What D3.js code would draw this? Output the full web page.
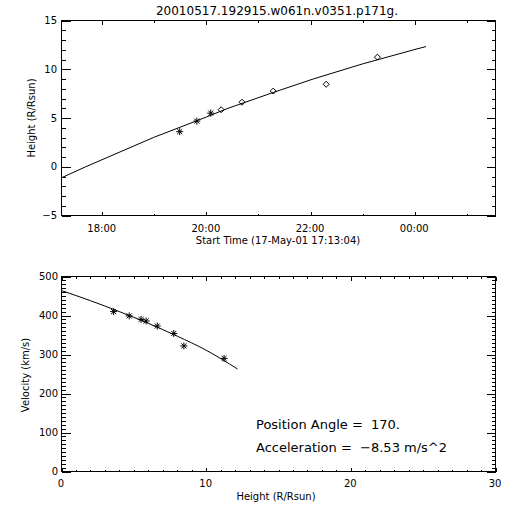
<!DOCTYPE html>
<html>
<head>
<meta charset="utf-8">
<script src="https://cdn.jsdelivr.net/npm/d3@7"></script>
<style>
  html, body { margin: 0; padding: 0; background: #fff; }
  svg { display: block; }
  text { font-family: "DejaVu Sans", sans-serif; fill: #000; white-space: pre; }
</style>
</head>
<body>
<svg id="chart" width="512" height="512"></svg>
<script>
// ---------------- data ----------------
const title = "20010517.192915.w061n.v0351.p171g.";
const startTime = "2001-05-17T17:13:04";
const obsTimes = ["2001-05-17T19:29:15", "2001-05-17T19:49:00", "2001-05-17T20:05:00",
                  "2001-05-17T20:17:00", "2001-05-17T20:41:00", "2001-05-17T21:17:00",
                  "2001-05-17T22:18:00", "2001-05-17T23:17:00"];
const obsHeights = [3.6, 4.68, 5.5, 5.85, 6.62, 7.76, 8.46, 11.24];
const obsSymbols = ["asterisk", "asterisk", "asterisk", "diamond", "diamond", "diamond", "diamond", "diamond"];
const obsVelocities = [410, 399, 390, 386, 373, 354, 322, 290];

const fitTimes = ["2001-05-17T17:13:04", "2001-05-17T17:41:00", "2001-05-17T18:59:00",
                  "2001-05-17T20:00:00", "2001-05-17T20:25:00", "2001-05-17T21:18:00",
                  "2001-05-17T22:03:00", "2001-05-17T23:00:00", "2001-05-17T23:59:00",
                  "2001-05-18T00:13:00"];
const fitHeights = [-1.13, 0, 3, 5.1, 6, 7.65, 9, 10.55, 12, 12.33];

const fitVelH = [0, 2, 4, 6, 8, 10, 12.16];
const fitVelV = [464, 438, 410, 380, 347, 311, 263];

const heightTicks = [-5, 0, 5, 10, 15];
const velTicks = [0, 100, 200, 300, 400, 500];
const hTicks = [0, 10, 20, 30];
const rangeSeconds = 30000;

const annotations = ["Position Angle =  170.", "Acceleration =  \u22128.53 m/s^2"];

// ---------------- setup ----------------
const svg = d3.select("#chart");
svg.append("rect").attr("width", 512).attr("height", 512).attr("fill", "#fff");
const parse = d3.timeParse("%Y-%m-%dT%H:%M:%S");
const t0 = parse(startTime);
const t1 = new Date(t0.getTime() + rangeSeconds * 1000);

const L = 61, R = 495;
const top1 = 20, bot1 = 215;
const top2 = 276, bot2 = 471;

const g = svg.append("g").attr("transform", "translate(0.5,0.5)");

function asteriskPath(r) {
  const d = r * 0.72;
  return `M${-r},0L${r},0M0,${-r}L0,${r}M${-d},${-d}L${d},${d}M${-d},${d}L${d},${-d}`;
}
function diamondPath(r) {
  return `M0,${-r}L${r},0L0,${r}L${-r},0Z`;
}

function frame(y0, y1) {
  g.append("rect").attr("x", L).attr("y", y0).attr("width", R - L).attr("height", y1 - y0)
    .attr("fill", "none").attr("stroke", "#000").attr("stroke-width", 1)
    .attr("shape-rendering", "crispEdges");
}
function ticksOnly(axis, transform) {
  const a = g.append("g").attr("transform", transform).call(axis.tickFormat("").tickSizeOuter(0));
  a.select(".domain").remove();
  a.selectAll("line").attr("stroke", "#000").attr("shape-rendering", "crispEdges");
  a.selectAll("text").remove();
}

// ---------------- top plot ----------------
const x1 = d3.scaleTime().domain([t0, t1]).range([L, R]);
const y1 = d3.scaleLinear().domain([-5, 15]).range([bot1, top1]);

frame(top1, bot1);
ticksOnly(d3.axisBottom(x1).ticks(d3.timeHour.every(2)).tickSizeInner(-4), `translate(0,${bot1})`);
ticksOnly(d3.axisBottom(x1).ticks(d3.timeHour.every(1)).tickSizeInner(-2), `translate(0,${bot1})`);
ticksOnly(d3.axisTop(x1).ticks(d3.timeHour.every(2)).tickSizeInner(-4), `translate(0,${top1})`);
ticksOnly(d3.axisTop(x1).ticks(d3.timeHour.every(1)).tickSizeInner(-2), `translate(0,${top1})`);
ticksOnly(d3.axisLeft(y1).tickValues(heightTicks).tickSizeInner(-9), `translate(${L},0)`);
ticksOnly(d3.axisLeft(y1).tickValues(d3.range(-5, 16, 1)).tickSizeInner(-4), `translate(${L},0)`);
ticksOnly(d3.axisRight(y1).tickValues(heightTicks).tickSizeInner(-9), `translate(${R},0)`);
ticksOnly(d3.axisRight(y1).tickValues(d3.range(-5, 16, 1)).tickSizeInner(-4), `translate(${R},0)`);

const fmt = d3.timeFormat("%H:%M");
svg.selectAll("text.xt1").data(x1.ticks(d3.timeHour.every(2))).enter().append("text")
  .attr("x", d => x1(d)).attr("y", 232).attr("text-anchor", "middle")
  .attr("font-size", 10).text(d => fmt(d));
svg.selectAll("text.yt1").data(heightTicks).enter().append("text")
  .attr("x", 57).attr("y", d => y1(d) + 4).attr("text-anchor", "end")
  .attr("font-size", 10).text(d => d3.format("d")(d).replace("-", "\u2212"));

svg.append("text").attr("x", 278).attr("y", 244).attr("text-anchor", "middle")
  .attr("font-size", 10).text("Start Time (17-May-01 17:13:04)");
svg.append("text").attr("transform", `translate(35,118) rotate(-90)`).attr("text-anchor", "middle")
  .attr("font-size", 10).text("Height (R/Rsun)");
svg.append("text").attr("x", 277).attr("y", 15).attr("text-anchor", "middle")
  .attr("font-size", 12).text(title);

const fitData = fitTimes.map((t, i) => ({ t: parse(t), h: fitHeights[i] }));
g.append("path").datum(fitData).attr("fill", "none").attr("stroke", "#000").attr("stroke-width", 1)
  .attr("d", d3.line().x(d => x1(d.t)).y(d => y1(d.h)));

const obs = obsTimes.map((t, i) => ({ t: parse(t), h: obsHeights[i], s: obsSymbols[i], v: obsVelocities[i] }));
g.selectAll("path.obs1").data(obs).enter().append("path")
  .attr("transform", d => `translate(${x1(d.t)},${y1(d.h)})`)
  .attr("d", d => d.s === "asterisk" ? asteriskPath(3.5) : diamondPath(3))
  .attr("fill", "none").attr("stroke", "#000").attr("stroke-width", 1);

// ---------------- bottom plot ----------------
const x2 = d3.scaleLinear().domain([0, 30]).range([L, R]);
const y2 = d3.scaleLinear().domain([0, 500]).range([bot2, top2]);

frame(top2, bot2);
ticksOnly(d3.axisBottom(x2).tickValues(hTicks).tickSizeInner(-4), `translate(0,${bot2})`);
ticksOnly(d3.axisBottom(x2).tickValues(d3.range(0, 31, 1)).tickSizeInner(-2), `translate(0,${bot2})`);
ticksOnly(d3.axisTop(x2).tickValues(hTicks).tickSizeInner(-4), `translate(0,${top2})`);
ticksOnly(d3.axisTop(x2).tickValues(d3.range(0, 31, 1)).tickSizeInner(-2), `translate(0,${top2})`);
ticksOnly(d3.axisLeft(y2).tickValues(velTicks).tickSizeInner(-9), `translate(${L},0)`);
ticksOnly(d3.axisLeft(y2).tickValues(d3.range(0, 501, 10)).tickSizeInner(-4), `translate(${L},0)`);
ticksOnly(d3.axisRight(y2).tickValues(velTicks).tickSizeInner(-9), `translate(${R},0)`);
ticksOnly(d3.axisRight(y2).tickValues(d3.range(0, 501, 10)).tickSizeInner(-4), `translate(${R},0)`);

svg.selectAll("text.xt2").data(hTicks).enter().append("text")
  .attr("x", d => x2(d)).attr("y", 487).attr("text-anchor", "middle")
  .attr("font-size", 10).text(d => d);
svg.selectAll("text.yt2").data(velTicks).enter().append("text")
  .attr("x", 58).attr("y", d => y2(d) + 4).attr("text-anchor", "end")
  .attr("font-size", 10).text(d => d);

svg.append("text").attr("x", 276).attr("y", 500).attr("text-anchor", "middle")
  .attr("font-size", 10).text("Height (R/Rsun)");
svg.append("text").attr("transform", `translate(29,375) rotate(-90)`).attr("text-anchor", "middle")
  .attr("font-size", 10).text("Velocity (km/s)");

const velFit = fitVelH.map((h, i) => ({ h, v: fitVelV[i] }));
g.append("path").datum(velFit).attr("fill", "none").attr("stroke", "#000").attr("stroke-width", 1)
  .attr("d", d3.line().curve(d3.curveMonotoneX).x(d => x2(d.h)).y(d => y2(d.v)));

g.selectAll("path.obs2").data(obs).enter().append("path")
  .attr("transform", d => `translate(${x2(d.h)},${y2(d.v)})`)
  .attr("d", asteriskPath(3.5))
  .attr("fill", "none").attr("stroke", "#000").attr("stroke-width", 1);

svg.selectAll("text.ann").data(annotations).enter().append("text")
  .attr("x", 256).attr("y", (d, i) => 429 + i * 23)
  .attr("xml:space", "preserve")
  .attr("font-size", 13).text(d => d);
</script>
</body>
</html>
